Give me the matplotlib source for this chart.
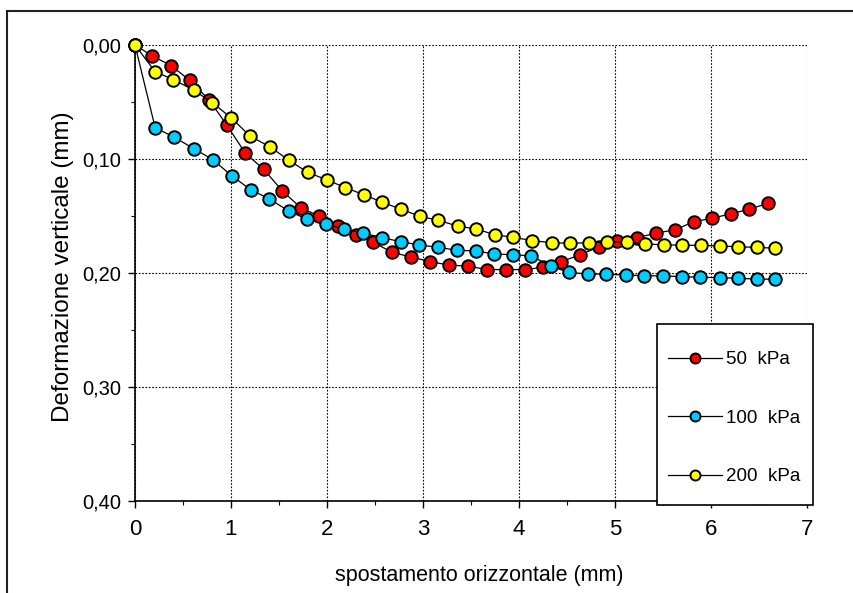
import matplotlib.pyplot as plt
from matplotlib.patches import Rectangle
from matplotlib.ticker import MultipleLocator, FuncFormatter

plt.rcParams['font.family'] = ['Liberation Sans', 'DejaVu Sans']

# 50 kPa
x50 = [0, 0.18, 0.375, 0.57, 0.77, 0.955, 1.15, 1.34, 1.535, 1.73, 1.92, 2.11, 2.30,
       2.48, 2.68, 2.88, 3.07, 3.27, 3.47, 3.67, 3.86, 4.06, 4.25, 4.44, 4.64, 4.83,
       5.02, 5.23, 5.43, 5.63, 5.82, 6.01, 6.21, 6.40, 6.59]
y50 = [0, 0.0096, 0.018, 0.031, 0.048, 0.070, 0.095, 0.109, 0.128, 0.143, 0.150, 0.159, 0.167,
       0.173, 0.182, 0.186, 0.190, 0.193, 0.194, 0.197, 0.197, 0.197, 0.195, 0.190, 0.184, 0.177,
       0.172, 0.169, 0.165, 0.162, 0.155, 0.152, 0.148, 0.144, 0.139]

# 100 kPa
x100 = [0, 0.21, 0.41, 0.615, 0.81, 1.007, 1.205, 1.40, 1.60, 1.795, 1.99, 2.18, 2.38,
        2.57, 2.77, 2.96, 3.16, 3.35, 3.55, 3.74, 3.94, 4.13, 4.33, 4.52, 4.72, 4.91,
        5.11, 5.30, 5.50, 5.70, 5.89, 6.09, 6.28, 6.48, 6.67]
y100 = [0, 0.0725, 0.081, 0.091, 0.1006, 0.1146, 0.127, 0.135, 0.1456, 0.153, 0.157, 0.1617, 0.165,
        0.169, 0.1725, 0.1754, 0.1775, 0.180, 0.1807, 0.1833, 0.184, 0.185, 0.194, 0.1995, 0.2009, 0.201,
        0.2018, 0.2023, 0.2026, 0.2032, 0.2038, 0.204, 0.2047, 0.2053, 0.2055]

# 200 kPa
x200 = [0, 0.21, 0.40, 0.61, 0.805, 1.00, 1.20, 1.41, 1.60, 1.80, 2.00, 2.19, 2.39,
        2.57, 2.77, 2.97, 3.16, 3.36, 3.55, 3.75, 3.94, 4.14, 4.34, 4.53, 4.73, 4.92,
        5.12, 5.31, 5.51, 5.70, 5.90, 6.09, 6.28, 6.48, 6.67]
y200 = [0, 0.0234, 0.0304, 0.0395, 0.0506, 0.0637, 0.080, 0.0895, 0.101, 0.1117, 0.1184, 0.125, 0.1316,
        0.1377, 0.1441, 0.1503, 0.1538, 0.1588, 0.1614, 0.1664, 0.1687, 0.1716, 0.1734, 0.174, 0.1734, 0.1728,
        0.1728, 0.1746, 0.1752, 0.1757, 0.1757, 0.1763, 0.177, 0.1775, 0.1783]

series = [
    (x50, y50, '#ff0000', '50  kPa'),
    (x100, y100, '#00ccff', '100  kPa'),
    (x200, y200, '#ffff00', '200  kPa'),
]

W, H = 854, 593
fig = plt.figure(figsize=(W / 100, H / 100), dpi=100)
ax = fig.add_axes([135 / W, 1 - 501 / H, (807 - 135) / W, (501 - 45) / H])

# cornice esterna
fig.patches.append(Rectangle((7 / W, -0.1), 1.2, 1.1 - 11 / H, transform=fig.transFigure,
                             fill=False, edgecolor='#222222', linewidth=1.5))

for x, y, c, lab in series:
    ax.plot(x, y, '-o', color='black', lw=0.9, markerfacecolor=c, markeredgecolor='black',
            markeredgewidth=1.4, markersize=9, label=lab, zorder=3, clip_on=False)

ax.set_xlim(0, 7)
ax.set_ylim(0.40, 0.0)
ax.xaxis.set_major_locator(MultipleLocator(1))
ax.xaxis.set_minor_locator(MultipleLocator(0.5))
ax.yaxis.set_major_locator(MultipleLocator(0.1))
ax.yaxis.set_minor_locator(MultipleLocator(0.05))
ax.yaxis.set_major_formatter(FuncFormatter(lambda v, p: f'{v:.2f}'.replace('.', ',')))
ax.tick_params(which='major', direction='out', length=5, width=1, color='black')
ax.tick_params(which='minor', direction='out', length=3, width=0.8, color='black')
ax.tick_params(axis='y', labelsize=14.5, pad=5)
ax.tick_params(axis='x', labelsize=16, pad=8)

ax.grid(True, which='major', color='black', linestyle=(0, (1.5, 1.5)), linewidth=0.8)
ax.spines['top'].set_visible(False)
ax.spines['right'].set_visible(False)
ax.spines['left'].set_linewidth(1.2)
ax.spines['bottom'].set_linewidth(1.2)

ax.set_xlabel('spostamento orizzontale (mm)', fontsize=15.5, labelpad=18)
ax.xaxis.label.set_x((479 - 135) / 672)
ax.set_ylabel('Deformazione verticale (mm)', fontsize=17.5, labelpad=6)
ax.yaxis.label.set_y((501 - 267) / 456)

# riquadro legenda
box = Rectangle((657 / W, 1 - 505 / H), (813 - 657) / W, (505 - 324) / H, transform=fig.transFigure,
                facecolor='white', edgecolor='black', linewidth=1.2, zorder=4.9, clip_on=False)
ax.add_artist(box)
leg = ax.legend(loc='upper left', bbox_to_anchor=(659 / W, 1 - 342 / H), bbox_transform=fig.transFigure,
                frameon=False, fontsize=13.5, labelspacing=2.2, handlelength=2.85, handletextpad=0.2,
                borderpad=0, markerscale=0.8)
leg.set_zorder(5)

fig.savefig('out.png', dpi=100)
